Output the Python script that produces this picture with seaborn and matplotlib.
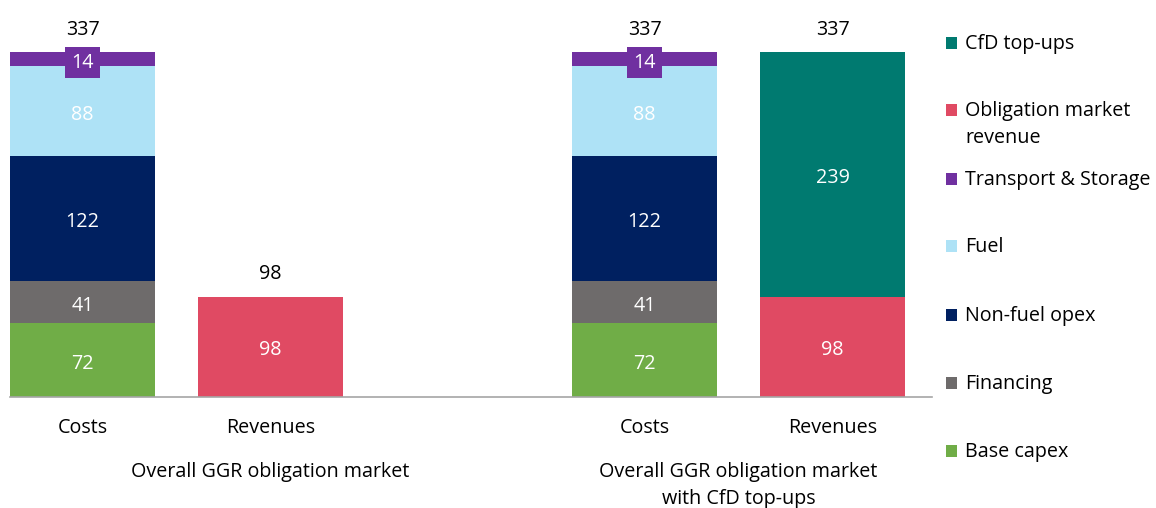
import numpy as np
import pandas as pd
import matplotlib
matplotlib.use("Agg")
import matplotlib.pyplot as plt
import seaborn as sns

# ---- data -------------------------------------------------------------
bar_labels = ["Costs", "Revenues", "Costs", "Revenues"]
bar_positions = [0, 1, 2.99, 3.99]
group_labels = ["Overall GGR obligation market",
                "Overall GGR obligation market\nwith CfD top-ups"]
group_label_x = [1, 3.49]

# stacked from bottom to top
base_capex = [72, 0, 72, 0]
financing = [41, 0, 41, 0]
non_fuel_opex = [122, 0, 122, 0]
fuel = [88, 0, 88, 0]
transport_storage = [14, 0, 14, 0]
obligation_revenue = [0, 98, 0, 98]
cfd_topups = [0, 0, 0, 239]

series = [
    ("Base capex", base_capex, "#70AD47"),
    ("Financing", financing, "#6E6B6B"),
    ("Non-fuel opex", non_fuel_opex, "#002060"),
    ("Fuel", fuel, "#AEE2F6"),
    ("Transport & Storage", transport_storage, "#7030A0"),
    ("Obligation market\nrevenue", obligation_revenue, "#E04A63"),
    ("CfD top-ups", cfd_topups, "#007A70"),
]
legend_order = ["CfD top-ups", "Obligation market\nrevenue", "Transport & Storage",
                "Fuel", "Non-fuel opex", "Financing", "Base capex"]

# ---- figure -----------------------------------------------------------
sns.set_theme(style="white")
plt.rcParams["font.family"] = ["Open Sans", "DejaVu Sans"]

W, H = 1156, 508
fig = plt.figure(figsize=(W / 100, H / 100), dpi=100)
ax_l, ax_r, ax_b, ax_t = 10, 932, 397, 20
ax = fig.add_axes([ax_l / W, 1 - ax_b / H, (ax_r - ax_l) / W, (ax_b - ax_t) / H])

fs = 14.2
bottom = np.zeros(len(bar_positions))
for name, vals, color in series:
    vals = np.array(vals, dtype=float)
    df = pd.DataFrame({"pos": bar_positions, "value": vals})
    sns.barplot(data=df, x="pos", y="value", native_scale=True, color=color,
                width=0.771, bottom=bottom.copy(), linewidth=0, errorbar=None,
                saturation=1, ax=ax)
    for p, v, b in zip(bar_positions, vals, bottom):
        if v <= 0:
            continue
        kw = {}
        if name == "Transport & Storage":
            kw["bbox"] = dict(boxstyle="square,pad=0.3", fc=color, ec="none")
        ax.annotate(f"{v:.0f}", (p, b + v / 2), xytext=(0, -2.5),
                    textcoords="offset points", ha="center", va="center",
                    color="white", fontsize=fs, **kw)
    bottom += vals

# totals above each bar
for p, tot in zip(bar_positions, bottom):
    ax.annotate(f"{tot:.0f}", (p, tot), xytext=(0, 16), textcoords="offset points",
                ha="center", va="center", fontsize=fs, color="black")

ax.set_xlim(-0.386, 4.519)
ax.set_ylim(0, (ax_b - ax_t) / 1.024)
ax.set_xticks(bar_positions)
ax.set_xticklabels(bar_labels, fontsize=fs, color="black")
ax.tick_params(axis="x", length=0, pad=15)
ax.set_yticks([])
ax.set_xlabel("")
ax.set_ylabel("")
for s in ["top", "left", "right"]:
    ax.spines[s].set_visible(False)
ax.spines["bottom"].set_color("#A6A6A6")
ax.spines["bottom"].set_linewidth(1.2)

for gx, gl in zip(group_label_x, group_labels):
    ax.annotate(gl, (gx, 0), xycoords=("data", "axes fraction"),
                xytext=(0, -46.5), textcoords="offset points",
                ha="center", va="top", fontsize=fs, color="black",
                linespacing=1.48)

# legend on the right
colors = {n: c for n, _, c in series}
legend_y = [43, 110, 179, 246, 315, 383, 451]
for name, y in zip(legend_order, legend_y):
    fig.patches.append(plt.Rectangle((946 / W, 1 - (y + 6) / H), 11 / W, 12 / H,
                                     transform=fig.transFigure, fc=colors[name],
                                     ec="none"))
    fig.text(965 / W, 1 - (y - 9) / H, name, ha="left", va="top",
             fontsize=fs, color="black", linespacing=1.48)

fig.savefig("out.png", dpi=100)
